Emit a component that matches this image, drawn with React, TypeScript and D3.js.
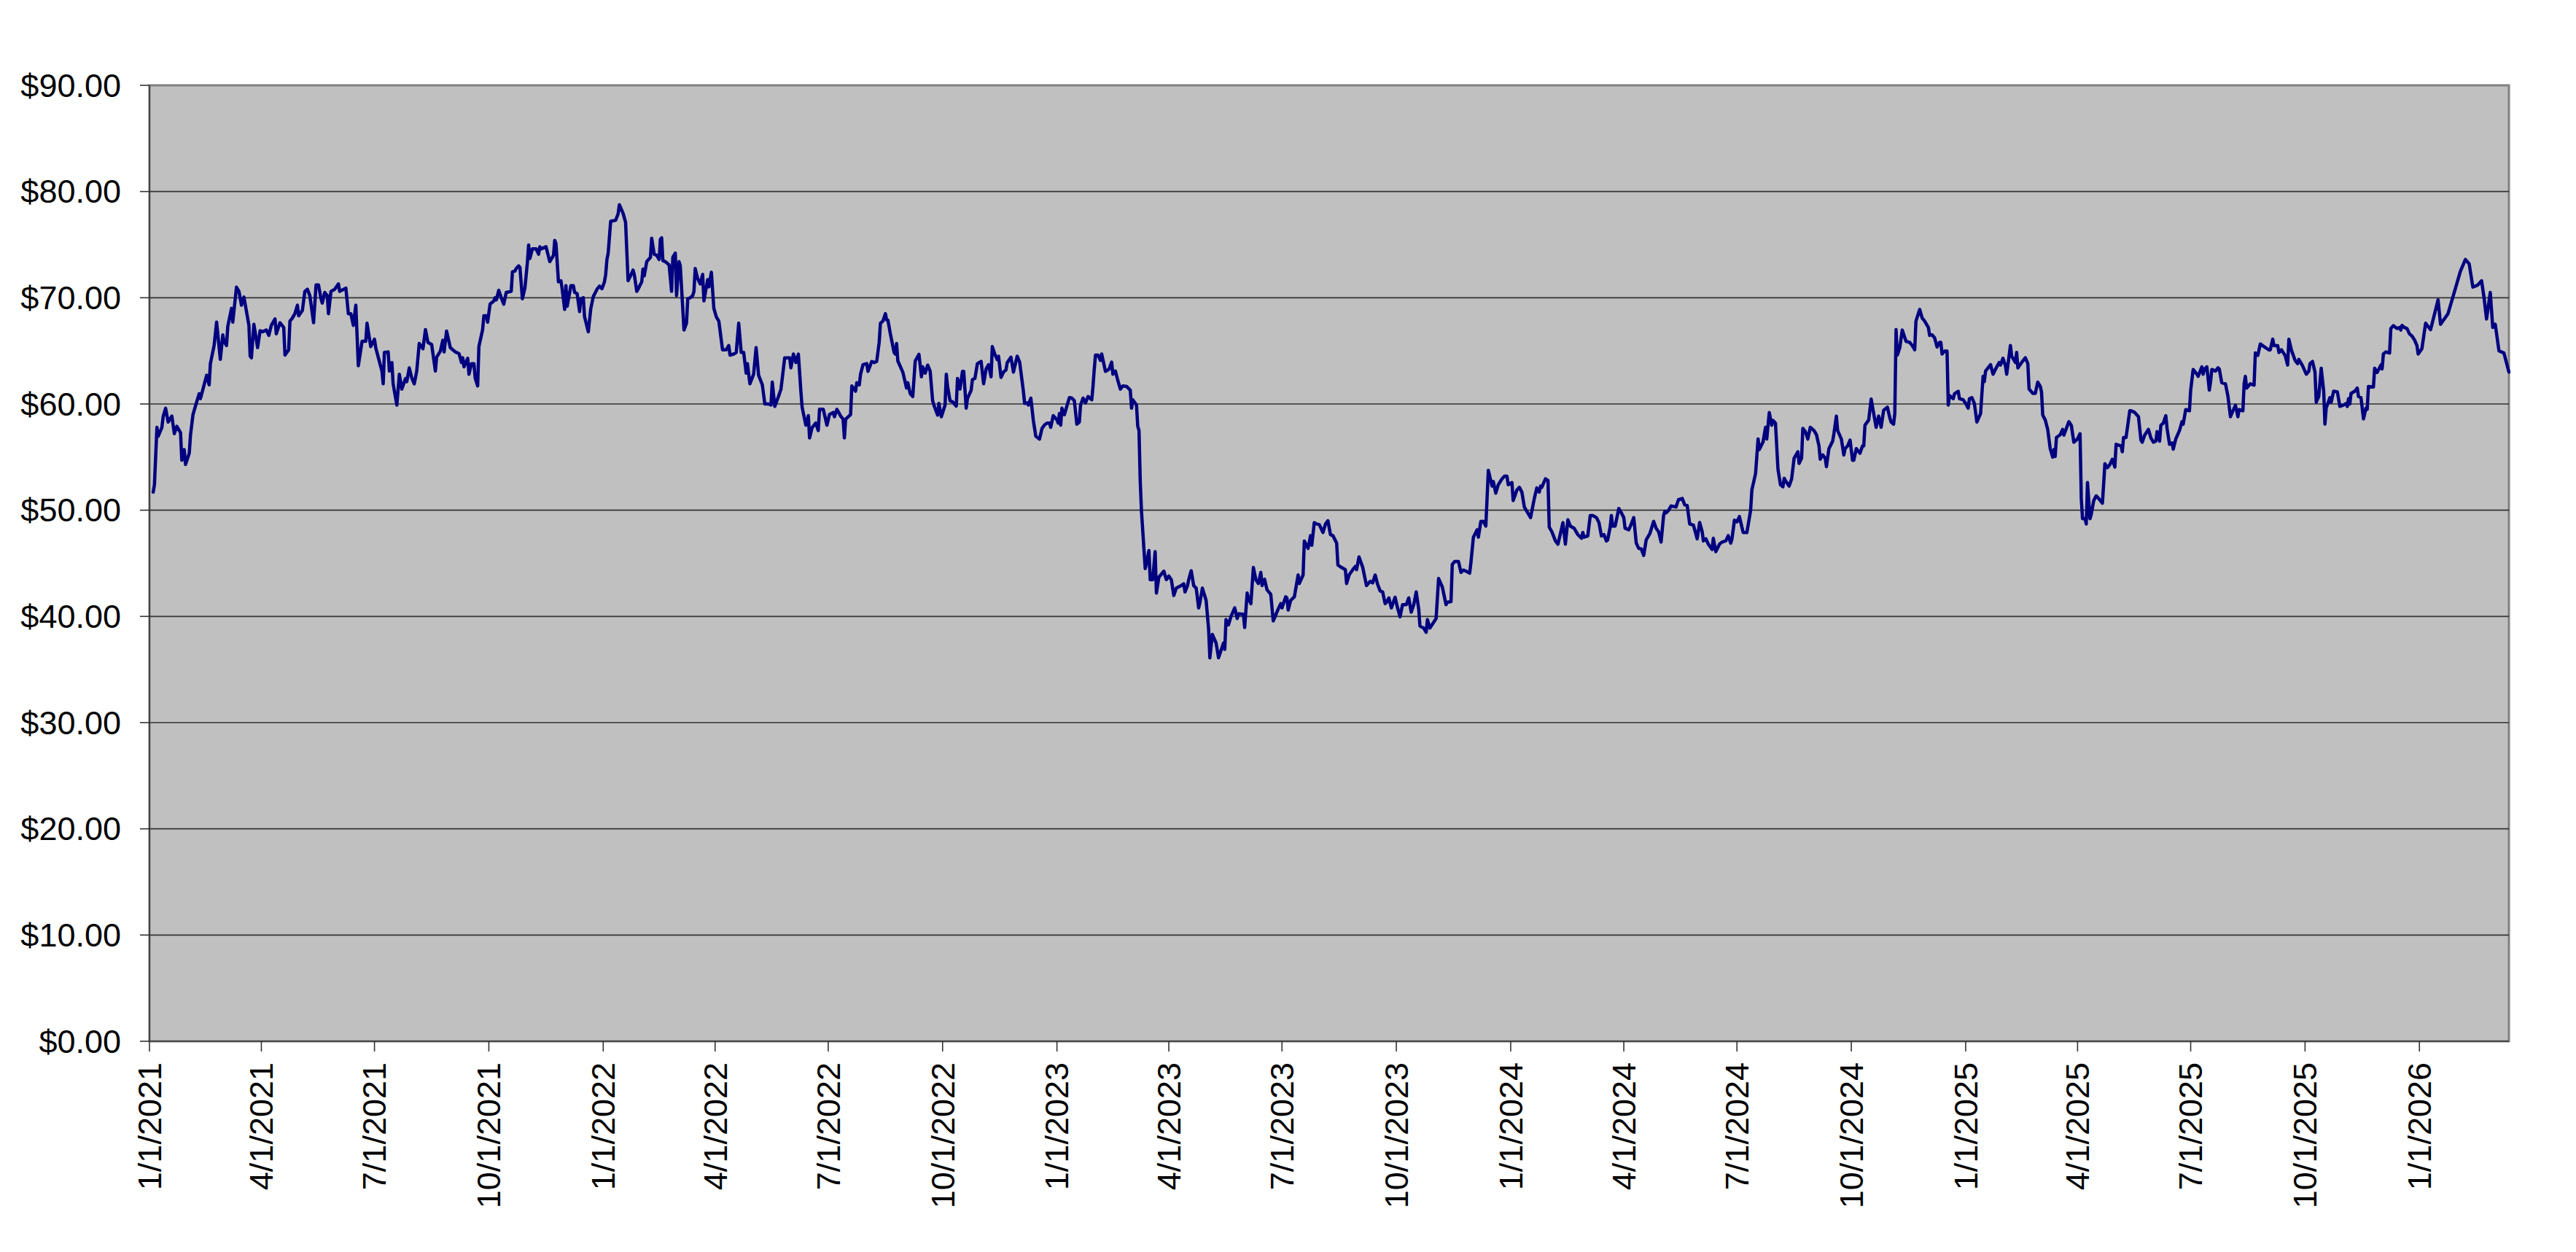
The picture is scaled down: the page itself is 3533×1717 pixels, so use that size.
import React from "react";
import * as d3 from "d3";

// Daily closing prices (month-day, price) grouped by year
const prices2021: [string, number][] = [
  ["01-04",51.7],["01-05",52.4],["01-07",57.8],["01-08",56.96],["01-11",57.8],["01-12",58.8],["01-14",59.6],["01-16",58.3],["01-19",58.86],["01-21",57.2],["01-23",57.9],["01-26",57.3],["01-27",54.7],["01-29",55.7],["01-30",54.3],
  ["02-02",55.36],["02-03",57.07],["02-05",59.0],["02-08",60.2],["02-10",60.97],["02-11",60.5],["02-16",62.7],["02-18",61.8],["02-19",63.8],["02-22",65.5],["02-24",67.7],["02-27",64.2],
  ["03-01",66.5],["03-02",65.9],["03-04",65.5],["03-05",67.3],["03-08",69.0],["03-09",67.7],["03-12",71.0],["03-14",70.6],["03-16",69.3],["03-18",70.07],["03-22",67.4],["03-23",64.5],["03-24",64.35],["03-26",67.5],["03-29",65.3],["03-31",66.9],
  ["04-02",66.8],["04-05",66.96],["04-07",66.46],["04-09",67.4],["04-12",68.0],["04-13",66.6],["04-16",67.65],["04-19",67.2],["04-20",64.6],["04-23",65.1],["04-24",67.8],["04-26",68.1],["04-28",68.5],["04-30",69.3],
  ["05-01",68.3],["05-04",68.8],["05-06",70.6],["05-08",70.8],["05-10",70.2],["05-13",67.65],["05-15",71.2],["05-17",71.2],["05-19",69.9],["05-20",69.5],["05-22",70.5],["05-24",70.2],["05-25",68.5],["05-27",70.6],["05-30",70.8],
  ["06-02",71.3],["06-03",70.6],["06-08",70.9],["06-10",68.5],["06-12",68.5],["06-14",67.4],["06-16",69.3],["06-18",63.6],["06-21",65.9],["06-24",65.9],["06-25",67.6],["06-28",65.4],
  ["07-01",66.1],["07-02",65.3],["07-07",63.1],["07-08",61.9],["07-09",64.85],["07-12",64.9],["07-13",63.1],["07-15",63.9],["07-16",61.9],["07-19",59.9],["07-21",62.8],["07-23",61.4],["07-26",62.4],["07-27",62.1],["07-29",63.4],["07-31",62.45],
  ["08-02",61.9],["08-04",63.1],["08-06",65.7],["08-09",65.2],["08-11",67.0],["08-13",65.8],["08-16",65.6],["08-19",63.1],["08-20",64.4],["08-23",64.97],["08-25",66.0],["08-26",64.9],["08-28",66.87],["08-31",65.3],
  ["09-02",65.1],["09-04",64.9],["09-07",64.74],["09-09",63.9],["09-10",64.35],["09-11",63.5],["09-14",64.3],["09-15",62.8],["09-17",63.8],["09-19",63.8],["09-20",62.45],["09-22",61.7],["09-23",65.4],["09-26",67.0],["09-27",68.3],["09-29",68.3],["09-30",67.7],
  ["10-02",69.4],["10-05",69.7],["10-06",70.0],["10-07",69.8],["10-09",70.7],["10-11",70.0],["10-13",69.4],["10-15",70.5],["10-19",70.6],["10-20",72.45],["10-22",72.5],["10-23",72.75],["10-25",73.0],["10-26",72.86],["10-28",69.9],["10-30",70.9],
  ["11-01",73.3],["11-02",74.97],["11-03",73.7],["11-05",74.6],["11-08",74.6],["11-10",74.1],["11-11",74.8],["11-12",74.6],["11-16",74.8],["11-19",73.4],["11-22",74.0],["11-23",75.4],["11-24",75.1],["11-26",71.5],["11-28",71.6],["11-29",70.8],
  ["12-01",68.9],["12-02",71.14],["12-03",69.2],["12-06",71.14],["12-08",71.14],["12-09",70.5],["12-11",70.4],["12-13",68.7],["12-14",69.9],["12-16",70.0],["12-17",68.2],["12-20",66.8],["12-22",68.97],["12-24",70.1],["12-27",70.8],["12-29",71.1],["12-31",70.85],
];

const prices2022: [string, number][] = [
  ["01-02",71.5],["01-03",72.2],["01-04",73.6],["01-05",74.2],["01-07",77.2],["01-09",77.25],["01-11",77.3],["01-13",77.9],["01-14",78.76],["01-17",77.94],["01-19",77.1],["01-21",71.6],["01-23",72.06],["01-25",72.6],["01-26",72.2],["01-28",70.6],["01-30",71.03],
  ["02-01",71.5],["02-02",72.7],["02-03",72.06],["02-05",73.4],["02-08",73.8],["02-09",75.6],["02-11",74.1],["02-13",74.0],["02-15",73.6],["02-16",75.5],["02-17",75.65],["02-18",73.5],["02-20",73.4],["02-23",73.1],["02-25",70.6],["02-26",73.8],["02-28",74.2],
  ["03-01",70.2],["03-03",73.4],["03-04",73.0],["03-07",66.96],["03-09",67.6],["03-10",69.9],["03-12",70.0],["03-14",70.2],["03-15",70.6],["03-16",72.75],["03-18",71.8],["03-20",71.3],["03-22",72.2],["03-23",69.7],["03-26",71.7],["03-27",71.03],["03-29",72.4],["03-31",69.0],
  ["04-02",68.2],["04-04",67.8],["04-07",65.1],["04-10",65.1],["04-12",65.5],["04-13",64.6],["04-16",64.7],["04-18",64.85],["04-20",67.6],["04-22",64.85],["04-24",64.85],["04-26",62.9],["04-27",63.8],["04-29",61.9],
  ["05-02",62.8],["05-04",65.3],["05-06",62.7],["05-09",61.8],["05-11",60.0],["05-14",60.0],["05-16",59.9],["05-17",62.06],["05-19",59.77],["05-22",60.7],["05-24",61.4],["05-27",64.35],["05-31",64.35],
  ["06-01",63.4],["06-03",64.7],["06-05",63.9],["06-07",64.7],["06-09",61.2],["06-10",59.7],["06-13",58.0],["06-15",58.9],["06-16",56.8],["06-18",57.76],["06-21",58.2],["06-23",57.5],["06-24",59.5],["06-27",59.5],["06-30",58.0],
  ["07-02",59.0],["07-05",59.2],["07-06",58.8],["07-08",59.5],["07-11",58.86],["07-13",58.56],["07-14",56.8],["07-15",58.56],["07-19",59.0],["07-20",61.7],["07-23",61.2],["07-24",62.0],["07-26",61.8],["07-27",62.8],["07-29",63.7],
  ["08-01",63.8],["08-02",63.07],["08-05",64.0],["08-07",63.9],["08-09",64.0],["08-11",65.8],["08-12",67.6],["08-14",67.8],["08-16",68.5],["08-17",67.9],["08-18",67.9],["08-20",66.6],["08-23",64.85],["08-24",64.7],["08-25",65.7],["08-26",64.05],["08-30",63.0],
  ["09-02",61.5],["09-03",62.0],["09-05",60.96],["09-07",60.7],["09-09",64.05],["09-12",64.67],["09-14",62.56],["09-15",63.5],["09-17",62.9],["09-19",63.66],["09-21",63.1],["09-23",60.3],["09-24",59.9],["09-27",58.95],["09-28",60.05],["09-30",58.8],
  ["10-03",59.9],["10-04",62.8],["10-05",61.65],["10-07",60.3],["10-09",60.2],["10-12",59.8],["10-13",62.4],["10-15",61.4],["10-17",63.07],["10-18",63.07],["10-20",59.6],["10-21",60.5],["10-24",61.3],["10-25",62.3],["10-27",62.4],["10-29",63.8],
  ["11-01",64.0],["11-03",61.9],["11-05",63.3],["11-07",63.7],["11-09",62.56],["11-10",65.4],["11-12",64.7],["11-14",64.17],["11-15",64.5],["11-17",62.5],["11-19",63.0],["11-21",63.2],["11-22",63.9],["11-25",64.4],["11-27",63.0],["11-30",64.5],
  ["12-02",63.94],["12-05",61.2],["12-06",60.05],["12-08",60.1],["12-09",59.9],["12-11",60.55],["12-13",58.45],["12-15",56.96],["12-18",56.7],["12-20",57.7],["12-22",58.03],["12-24",58.2],["12-26",58.2],["12-27",57.8],["12-29",58.9],
];

const prices2023: [string, number][] = [
  ["01-01",58.5],["01-02",58.2],["01-03",59.1],["01-04",58.0],["01-05",59.6],["01-07",59.0],["01-09",59.8],["01-11",60.6],["01-13",60.55],["01-15",60.3],["01-17",58.1],["01-19",58.3],["01-20",59.9],["01-22",60.55],["01-24",60.1],["01-26",60.7],["01-29",60.4],["01-30",61.65],["01-31",63.25],
  ["02-01",64.6],["02-03",64.6],["02-05",64.1],["02-06",64.7],["02-09",63.07],["02-11",63.2],["02-12",63.3],["02-14",63.94],["02-15",62.8],["02-17",63.1],["02-19",62.2],["02-21",61.4],["02-23",61.7],["02-26",61.65],
  ["03-01",61.3],["03-02",59.6],["03-03",60.4],["03-06",59.9],["03-07",57.9],["03-08",57.5],["03-09",52.7],["03-10",49.9],["03-12",46.3],["03-13",44.5],["03-14",44.95],["03-16",46.2],["03-17",43.46],["03-19",43.46],["03-21",46.1],["03-22",42.2],["03-24",43.7],["03-28",44.26],["03-30",43.46],
  ["04-01",43.8],["04-03",43.46],["04-05",41.97],["04-07",42.66],["04-11",42.9],["04-13",43.07],["04-14",42.3],["04-16",42.9],["04-17",43.46],["04-19",44.3],["04-21",42.9],["04-23",42.66],["04-25",40.8],["04-26",41.3],["04-28",42.66],
  ["05-01",41.5],["05-03",38.8],["05-04",36.1],["05-06",38.3],["05-09",37.5],["05-11",36.1],["05-15",37.5],["05-16",36.9],["05-17",39.7],["05-19",39.2],["05-21",40.0],["05-24",40.8],["05-26",39.8],["05-27",40.25],["05-31",40.2],
  ["06-01",38.95],["06-03",42.2],["06-04",41.74],["06-06",41.2],["06-08",44.6],["06-10",43.46],["06-12",43.1],["06-14",44.14],["06-15",42.9],["06-17",43.5],["06-19",42.5],["06-22",42.08],["06-24",39.57],["06-26",40.14],["06-28",40.7],["06-30",41.2],
  ["07-01",40.8],["07-04",41.85],["07-05",41.74],["07-06",40.6],["07-08",41.5],["07-11",41.85],["07-14",43.9],["07-15",43.1],["07-18",43.9],["07-19",47.1],["07-22",46.4],["07-24",47.6],["07-25",46.7],["07-27",48.83],["07-29",48.7],["07-31",48.65],
  ["08-03",47.9],["08-05",48.7],["08-07",49.0],["08-09",47.7],["08-11",47.6],["08-14",46.9],["08-15",44.83],["08-18",44.6],["08-21",44.4],["08-22",43.1],["08-24",43.9],["08-27",44.4],["08-29",44.7],["08-30",44.4],
  ["09-01",45.6],["09-04",44.6],["09-07",42.9],["09-10",43.3],["09-12",43.16],["09-14",43.9],["09-16",43.0],["09-18",42.4],["09-20",42.3],["09-22",41.2],["09-23",41.3],["09-25",41.74],["09-27",40.8],["09-30",41.8],
  ["10-02",40.8],["10-04",39.96],["10-06",41.1],["10-09",41.1],["10-11",41.74],["10-13",40.4],["10-15",41.1],["10-17",42.3],["10-19",40.7],["10-20",39.1],["10-23",38.9],["10-25",38.5],["10-26",39.7],["10-28",38.9],
  ["11-02",39.8],["11-04",43.57],["11-07",42.77],["11-10",41.1],["11-11",41.33],["11-14",41.4],["11-15",44.9],["11-17",45.17],["11-20",45.17],["11-22",44.14],["11-24",44.37],["11-26",44.26],["11-29",44.07],["11-30",45.06],
  ["12-02",47.46],["12-05",48.15],["12-06",47.46],["12-08",48.95],["12-10",48.95],["12-12",48.5],["12-14",53.75],["12-17",52.27],["12-18",52.7],["12-20",51.6],["12-22",52.4],["12-25",52.95],["12-27",53.2],["12-29",53.2],["12-30",52.4],
];

const prices2024: [string, number][] = [
  ["01-02",52.6],["01-03",50.9],["01-06",51.9],["01-08",52.15],["01-10",51.7],["01-12",50.3],["01-17",49.3],["01-20",51.1],["01-22",52.1],["01-24",51.7],["01-25",52.27],["01-26",52.15],["01-29",52.95],["01-31",52.8],
  ["02-01",48.4],["02-03",48.0],["02-06",47.1],["02-08",46.8],["02-10",47.8],["02-12",48.83],["02-14",46.8],["02-16",49.1],["02-18",48.5],["02-21",48.3],["02-23",47.9],["02-24",47.7],["02-27",47.35],["02-28",47.9],["02-29",47.46],
  ["03-03",47.57],["03-05",49.5],["03-07",49.5],["03-10",49.3],["03-12",48.83],["03-14",47.57],["03-16",47.7],["03-18",47.1],["03-19",47.2],["03-21",48.4],["03-22",49.5],["03-23",48.5],["03-25",48.5],["03-28",50.16],["03-30",49.75],
  ["04-01",49.3],["04-02",48.3],["04-05",48.15],["04-07",48.7],["04-09",49.3],["04-11",46.9],["04-13",46.4],["04-15",46.36],["04-17",45.75],["04-19",47.2],["04-22",47.8],["04-25",48.95],["04-27",48.3],["04-29",47.97],
  ["05-01",47.0],["05-03",49.5],["05-04",49.9],["05-05",49.75],["05-07",49.98],["05-09",50.4],["05-13",50.3],["05-15",51.0],["05-18",51.1],["05-20",50.5],["05-22",50.44],["05-24",48.7],["05-27",48.6],["05-30",47.3],
  ["06-01",48.84],["06-03",48.0],["06-04",47.1],["06-06",47.3],["06-08",46.8],["06-11",46.3],["06-12",47.35],["06-14",46.1],["06-17",46.8],["06-19",47.0],["06-22",47.1],["06-24",47.6],["06-26",46.9],["06-27",47.3],["06-29",49.06],
  ["07-01",48.9],["07-03",49.4],["07-06",47.9],["07-09",47.9],["07-12",49.98],["07-13",51.9],["07-16",53.46],["07-18",56.7],["07-19",55.7],["07-22",56.43],["07-24",57.8],["07-25",56.7],["07-27",59.2],["07-29",58.0],["07-30",58.45],
  ["08-01",58.2],["08-03",53.87],["08-05",52.4],["08-07",52.2],["08-08",53.0],["08-10",52.6],["08-12",52.27],["08-14",52.95],["08-16",54.9],["08-19",55.5],["08-20",54.4],["08-22",54.9],["08-23",57.7],["08-25",57.4],["08-27",56.7],["08-29",57.8],
  ["09-01",57.5],["09-03",57.1],["09-05",56.05],["09-06",54.8],["09-08",55.2],["09-10",54.9],["09-11",54.1],["09-13",55.8],["09-16",56.5],["09-17",57.2],["09-19",58.86],["09-20",57.5],["09-23",56.7],["09-25",55.2],["09-26",55.8],["09-28",56.05],["09-30",56.6],
  ["10-02",54.7],["10-03",54.7],["10-05",55.8],["10-08",55.36],["10-10",56.05],["10-11",56.05],["10-12",58.0],["10-15",58.5],["10-17",60.46],["10-19",59.1],["10-21",57.8],["10-23",58.86],["10-25",57.8],["10-27",59.4],["10-30",59.7],
  ["11-01",58.7],["11-02",58.3],["11-04",58.1],["11-05",59.1],["11-06",67.0],["11-07",64.6],["11-09",65.3],["11-11",66.96],["11-14",65.9],["11-17",65.8],["11-19",65.5],["11-21",65.1],["11-22",67.8],["11-25",68.9],["11-27",68.1],["11-29",67.8],
  ["12-02",67.2],["12-03",66.46],["12-05",66.5],["12-07",66.23],["12-09",65.36],["12-11",65.8],["12-12",65.8],["12-13",64.7],["12-15",64.97],["12-17",64.97],["12-18",59.9],["12-19",60.8],["12-22",60.5],["12-23",60.96],["12-26",61.2],["12-27",60.5],["12-30",60.4],
];

const prices2025: [string, number][] = [
  ["01-01",60.05],["01-03",59.6],["01-04",60.5],["01-06",60.6],["01-08",60.05],["01-10",58.3],["01-13",59.1],["01-15",62.6],["01-16",62.1],["01-17",63.1],["01-21",63.7],["01-23",62.8],["01-26",63.5],["01-28",63.9],["01-29",63.66],["01-31",64.3],
  ["02-02",63.6],["02-03",62.8],["02-06",65.5],["02-07",64.5],["02-10",63.9],["02-11",64.85],["02-12",63.4],["02-15",63.9],["02-18",64.35],["02-20",63.8],["02-21",61.4],["02-24",61.0],["02-26",61.0],["02-28",62.06],
  ["03-02",61.65],["03-03",61.14],["03-04",58.95],["03-06",58.5],["03-08",57.6],["03-10",55.8],["03-12",55.0],["03-13",55.7],["03-14",55.06],["03-15",56.84],["03-18",57.1],["03-20",57.6],["03-21",57.07],["03-25",58.33],["03-27",57.98],["03-29",56.4],
  ["04-01",56.7],["04-03",57.2],["04-04",51.1],["04-05",49.2],["04-07",49.2],["04-08",48.7],["04-09",52.6],["04-11",49.2],["04-12",49.6],["04-14",50.9],["04-16",51.35],["04-18",51.1],["04-21",50.66],["04-23",54.37],["04-25",54.0],["04-27",54.3],["04-29",54.8],
  ["05-01",54.05],["05-02",56.2],["05-06",56.04],["05-07",55.5],["05-08",56.84],["05-10",56.84],["05-13",59.36],["05-14",59.36],["05-17",59.2],["05-20",58.8],["05-22",56.6],["05-23",56.4],["05-25",57.07],["05-28",57.6],["05-30",56.8],
  ["06-01",56.4],["06-03",56.5],["06-04",57.4],["06-06",56.5],["06-07",57.98],["06-09",58.2],["06-11",58.9],["06-12",57.7],["06-14",56.2],["06-16",56.34],["06-17",55.74],["06-19",56.7],["06-22",57.5],["06-24",58.33],["06-25",58.1],["06-27",59.47],["06-30",59.36],
  ["07-01",61.3],["07-03",63.25],["07-06",62.8],["07-07",62.6],["07-10",63.5],["07-11",62.8],["07-12",63.25],["07-14",63.5],["07-16",61.3],["07-17",62.1],["07-18",63.25],["07-21",63.1],["07-23",63.4],["07-24",63.3],["07-26",62.0],["07-29",61.9],["07-31",60.7],
  ["08-02",58.8],["08-04",59.36],["08-06",59.87],["08-08",58.8],["08-09",59.47],["08-12",59.36],["08-13",61.9],["08-14",62.6],["08-15",61.5],["08-18",61.9],["08-21",61.77],["08-22",64.8],["08-24",64.57],["08-26",65.65],["08-29",65.4],
  ["09-02",65.08],["09-03",65.1],["09-05",66.1],["09-06",65.5],["09-09",65.5],["09-10",64.85],["09-12",65.1],["09-15",64.57],["09-17",63.66],["09-18",66.1],["09-20",65.08],["09-23",64.1],["09-25",63.8],["09-26",64.2],["09-29",63.6],
  ["10-02",62.8],["10-04",63.07],["10-05",63.8],["10-07",64.0],["10-09",63.0],["10-10",60.16],["10-12",60.7],["10-14",63.36],["10-16",61.2],["10-17",58.1],["10-18",59.6],["10-21",60.6],["10-22",60.16],["10-24",61.2],["10-27",61.14],["10-29",59.77],
  ["11-01",59.9],["11-03",60.05],["11-04",59.77],["11-05",60.5],["11-06",60.0],["11-07",61.0],["11-10",61.2],["11-12",61.5],["11-13",60.7],["11-15",60.6],["11-17",58.6],["11-19",59.6],["11-20",59.5],["11-21",61.65],["11-25",61.6],["11-26",63.36],["11-28",62.97],
  ["12-01",63.66],["12-02",63.3],["12-03",64.7],["12-05",64.9],["12-08",64.8],["12-09",67.1],["12-11",67.37],["12-14",67.1],["12-16",67.2],["12-17",66.96],["12-18",67.4],["12-20",67.2],["12-22",67.1],["12-24",66.6],["12-26",66.4],["12-28",66.04],["12-30",65.5],["12-31",64.7],
];

const prices2026: [string, number][] = [
  ["01-03",65.2],["01-05",66.8],["01-06",67.6],["01-10",67.0],["01-16",69.8],["01-18",67.5],["01-24",68.5],["01-29",70.5],
  ["02-03",72.5],["02-07",73.6],["02-10",73.2],["02-13",71.0],["02-17",71.2],["02-20",71.6],["02-22",70.0],["02-24",68.0],["02-27",70.5],
  ["03-01",67.2],["03-03",67.5],["03-06",65.0],["03-10",64.8],["03-14",63.0],
];

const seriesByYear: [number, [string, number][]][] = [
  [2021, prices2021], [2022, prices2022], [2023, prices2023], [2024, prices2024], [2025, prices2025], [2026, prices2026],
];

const yTickValues = [0, 10, 20, 30, 40, 50, 60, 70, 80, 90];
const xTickDates = [
  "2021-01-01","2021-04-01","2021-07-01","2021-10-01",
  "2022-01-01","2022-04-01","2022-07-01","2022-10-01",
  "2023-01-01","2023-04-01","2023-07-01","2023-10-01",
  "2024-01-01","2024-04-01","2024-07-01","2024-10-01",
  "2025-01-01","2025-04-01","2025-07-01","2025-10-01",
  "2026-01-01",
];
const xTickLabels = [
  "1/1/2021","4/1/2021","7/1/2021","10/1/2021",
  "1/1/2022","4/1/2022","7/1/2022","10/1/2022",
  "1/1/2023","4/1/2023","7/1/2023","10/1/2023",
  "1/1/2024","4/1/2024","7/1/2024","10/1/2024",
  "1/1/2025","4/1/2025","7/1/2025","10/1/2025",
  "1/1/2026",
];
const axisStart = "2021-01-01";
const axisEnd = "2026-03-14";

const W = 3533;
const H = 1717;
const FONT = "'Liberation Sans', Arial, Helvetica, sans-serif";

export default function App() {
  const left = 205, right = 3441, top = 117, bottom = 1428;
  const parse = d3.utcParse("%Y-%m-%d");
  const x = d3.scaleUtc().domain([parse(axisStart)!, parse(axisEnd)!]).range([left, right]);
  const y = d3.scaleLinear().domain([0, 90]).range([bottom, top]);

  const data: { d: Date; v: number }[] = [];
  seriesByYear.forEach(([yr, arr]) => {
    arr.forEach(([md, v]) => data.push({ d: parse(`${yr}-${md}`)!, v }));
  });

  const line = d3.line<{ d: Date; v: number }>().x((p) => x(p.d)).y((p) => y(p.v));
  const fmt = d3.format(".2f");

  return (
    <div style={{ position: "absolute", left: 0, top: 0 }}>
      <svg width={W} height={H} style={{ display: "block", background: "#ffffff" }}>
        <rect x={0} y={0} width={W} height={H} fill="#ffffff" />
        <rect x={left} y={top} width={right - left} height={bottom - top} fill="#C0C0C0" stroke="#808080" strokeWidth={3} />
        {yTickValues.filter((v) => v > 0 && v < 90).map((v) => (
          <line key={`g${v}`} x1={left} x2={right} y1={y(v)} y2={y(v)} stroke="#333333" strokeWidth={1.6} />
        ))}
        <line x1={left} x2={left} y1={top} y2={bottom} stroke="#333333" strokeWidth={1.6} />
        <line x1={left} x2={right} y1={bottom} y2={bottom} stroke="#333333" strokeWidth={1.6} />
        {yTickValues.map((v) => (
          <g key={`y${v}`}>
            <line x1={left - 13} x2={left} y1={y(v)} y2={y(v)} stroke="#333333" strokeWidth={1.6} />
            <text x={166} y={y(v)} dy="0.35em" textAnchor="end" fontFamily={FONT} fontSize={45} fill="#000">
              {"$" + fmt(v)}
            </text>
          </g>
        ))}
        {xTickDates.map((ds, i) => {
          const xx = x(parse(ds)!);
          return (
            <g key={ds}>
              <line x1={xx} x2={xx} y1={bottom} y2={bottom + 14} stroke="#333333" strokeWidth={1.6} />
              <text transform={`translate(${xx},${bottom + 29}) rotate(-90)`} dy="0.35em" textAnchor="end" fontFamily={FONT} fontSize={45} fill="#000">
                {xTickLabels[i]}
              </text>
            </g>
          );
        })}
        <path d={line(data) || ""} fill="none" stroke="#000080" strokeWidth={4.5} strokeLinejoin="round" strokeLinecap="round" />
      </svg>
    </div>
  );
}
